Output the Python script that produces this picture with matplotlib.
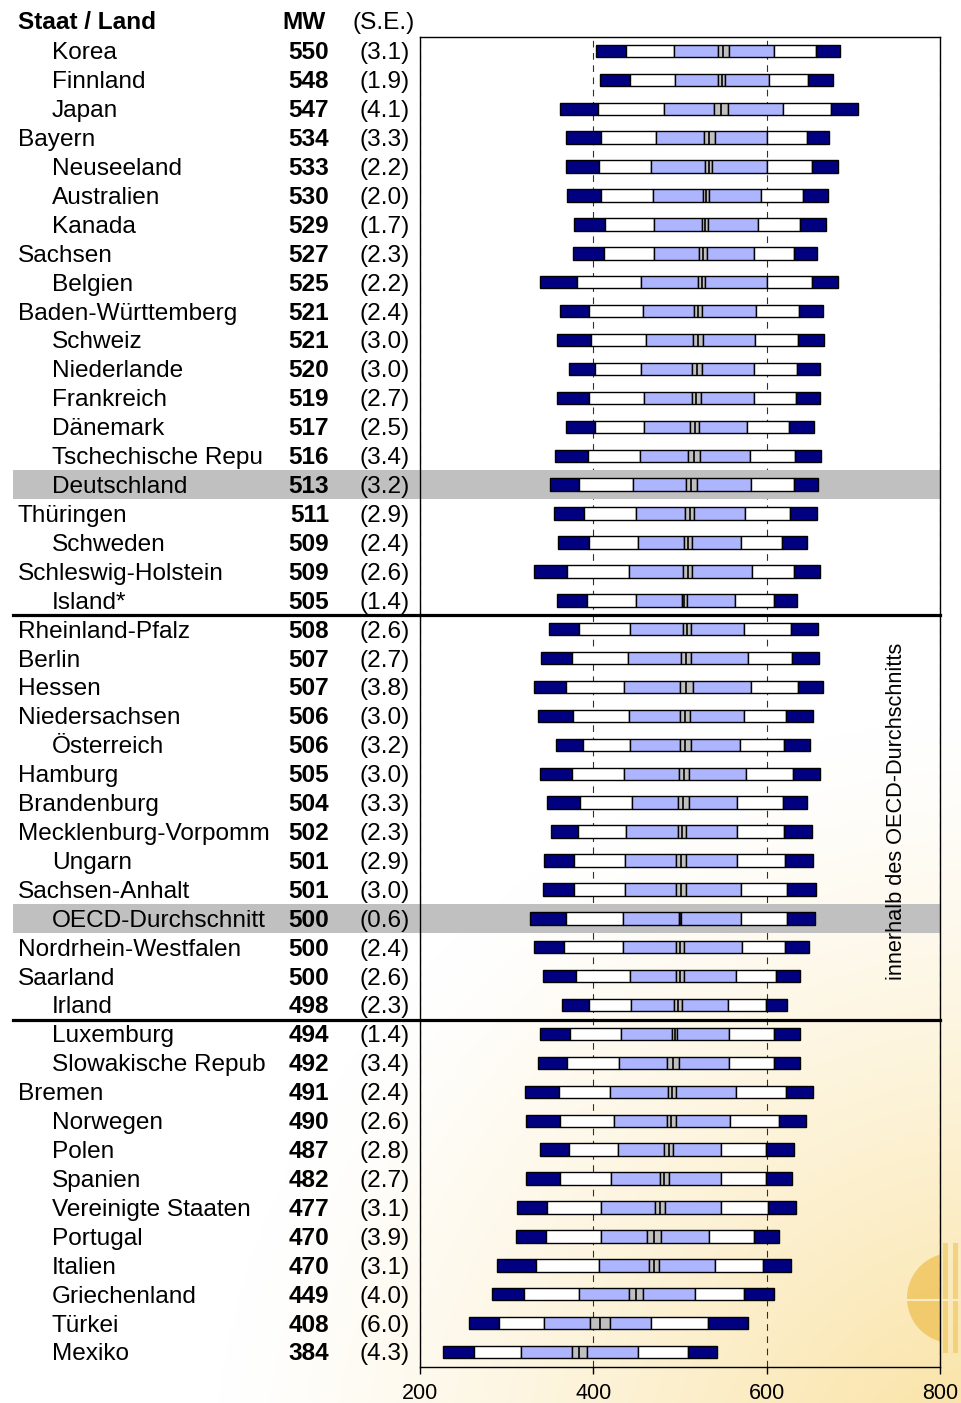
import numpy as np
import matplotlib
matplotlib.use("Agg")
import matplotlib.pyplot as plt
from matplotlib.patches import Rectangle, Circle
from matplotlib.lines import Line2D
from matplotlib.transforms import blended_transform_factory

plt.rcParams['font.family'] = ['Liberation Sans', 'DejaVu Sans']

# ---------------- data ----------------
names = ["Korea", "Finnland", "Japan", "Bayern", "Neuseeland", "Australien", "Kanada",
         "Sachsen", "Belgien", "Baden-Württemberg", "Schweiz", "Niederlande", "Frankreich",
         "Dänemark", "Tschechische Repu", "Deutschland", "Thüringen", "Schweden",
         "Schleswig-Holstein", "Island*", "Rheinland-Pfalz", "Berlin", "Hessen",
         "Niedersachsen", "Österreich", "Hamburg", "Brandenburg", "Mecklenburg-Vorpomm",
         "Ungarn", "Sachsen-Anhalt", "OECD-Durchschnitt", "Nordrhein-Westfalen", "Saarland",
         "Irland", "Luxemburg", "Slowakische Repub", "Bremen", "Norwegen", "Polen", "Spanien",
         "Vereinigte Staaten", "Portugal", "Italien", "Griechenland", "Türkei", "Mexiko"]
# 1 = Staat (Land, indented), 0 = Bundesland
is_country = [1, 1, 1, 0, 1, 1, 1, 0, 1, 0, 1, 1, 1, 1, 1, 1, 0, 1, 0, 1, 0, 0, 0, 0, 1, 0, 0, 0,
              1, 0, 1, 0, 0, 1, 1, 1, 0, 1, 1, 1, 1, 1, 1, 1, 1, 1]
mw = [550, 548, 547, 534, 533, 530, 529, 527, 525, 521, 521, 520, 519, 517, 516, 513, 511, 509,
      509, 505, 508, 507, 507, 506, 506, 505, 504, 502, 501, 501, 500, 500, 500, 498, 494, 492,
      491, 490, 487, 482, 477, 470, 470, 449, 408, 384]
se = [3.1, 1.9, 4.1, 3.3, 2.2, 2.0, 1.7, 2.3, 2.2, 2.4, 3.0, 3.0, 2.7, 2.5, 3.4, 3.2, 2.9, 2.4,
      2.6, 1.4, 2.6, 2.7, 3.8, 3.0, 3.2, 3.0, 3.3, 2.3, 2.9, 3.0, 0.6, 2.4, 2.6, 2.3, 1.4, 3.4,
      2.4, 2.6, 2.8, 2.7, 3.1, 3.9, 3.1, 4.0, 6.0, 4.3]
p5 = [403, 408, 362, 369, 369, 370, 378, 377, 339, 362, 358, 372, 358, 369, 356, 350, 355, 359,
      331, 358, 349, 340, 332, 336, 357, 339, 347, 351, 343, 342, 327, 331, 342, 364, 339, 336,
      321, 322, 338, 322, 312, 311, 289, 283, 257, 226]
p10 = [438, 442, 405, 409, 406, 409, 414, 412, 381, 395, 397, 402, 395, 402, 394, 384, 389, 395,
       370, 393, 383, 375, 369, 376, 388, 375, 385, 382, 378, 378, 368, 366, 380, 395, 373, 370,
       360, 361, 372, 361, 347, 345, 334, 320, 291, 262]
p25 = [493, 494, 481, 472, 467, 469, 470, 470, 455, 457, 461, 455, 458, 458, 454, 446, 449, 451,
       441, 449, 442, 440, 435, 441, 442, 435, 445, 438, 436, 437, 434, 434, 442, 444, 432, 430,
       419, 424, 428, 420, 409, 409, 406, 383, 343, 317]
p75 = [609, 603, 619, 600, 600, 593, 590, 585, 600, 588, 586, 585, 585, 577, 581, 582, 575, 570,
       583, 564, 574, 578, 582, 574, 569, 576, 566, 566, 566, 570, 570, 572, 565, 555, 557, 557,
       565, 558, 547, 547, 547, 533, 540, 517, 467, 451]
p90 = [657, 648, 674, 646, 652, 642, 639, 631, 652, 637, 636, 635, 634, 626, 633, 631, 627, 618,
       632, 608, 628, 629, 636, 622, 620, 630, 619, 620, 621, 623, 624, 621, 611, 599, 609, 608,
       622, 614, 599, 599, 602, 585, 596, 574, 532, 509]
p95 = [685, 676, 705, 672, 682, 671, 668, 658, 682, 665, 666, 662, 662, 655, 663, 659, 658, 647,
       661, 635, 659, 660, 665, 654, 650, 662, 646, 652, 653, 657, 656, 649, 638, 624, 639, 638,
       653, 645, 632, 629, 634, 614, 628, 608, 578, 543]
xticks = [200, 400, 600, 800]
highlight_rows = ["Deutschland", "OECD-Durchschnitt"]
separators_after = ["Island*", "Irland"]
side_label = "innerhalb des OECD-Durchschnitts"

# ---------------- figure ----------------
W, H = 962, 1403
fig = plt.figure(figsize=(W / 100, H / 100), dpi=100)
fig.patch.set_facecolor("white")

# background gradient + faint logo
bg = fig.add_axes([0, 0, 1, 1], zorder=-5)
bg.set_xlim(0, W)
bg.set_ylim(H, 0)
bg.axis("off")
gx, gy = np.meshgrid(np.linspace(0, W, 241), np.linspace(0, H, 351))
dist = np.hypot(gx - 1010, gy - 1520)
t = np.clip(1 - dist / 800, 0, 1) ** 1.25
base = np.array([249, 222, 150]) / 255.0
img = np.ones(gx.shape + (3,)) * (1 - t[..., None]) + base * t[..., None]
bg.imshow(img, extent=(0, W, H, 0), aspect="auto", interpolation="bilinear", zorder=0)
clip = Rectangle((0, 0), 940, H, transform=bg.transData)
disc = Circle((952, 1298), 45, facecolor="#EDBE4C", edgecolor="none", alpha=0.7, zorder=1)
bg.add_patch(disc)
disc.set_clip_path(clip)
for x0 in (943, 953):
    bg.add_patch(Rectangle((x0, 1243), 5, 110, facecolor="#EFC964", edgecolor="none",
                           alpha=0.7, zorder=1))
bg.plot([905, 962], [1300, 1300], color="#FBEBC4", lw=1.5, zorder=2)

# main plot axes
ax = fig.add_axes([420 / W, 1 - 1366.5 / H, 520 / W, 1330 / H])
ax.patch.set_facecolor("none")
n = len(names)
rows = np.arange(n)
ax.set_xlim(200, 800)
ax.set_ylim(n - 0.5, -0.5)

navy = "#000080"
lblue = "#ADB5FF"
gray = "#C0C0C0"
bh = 0.43
p5a, p10a, p25a = np.array(p5), np.array(p10), np.array(p25)
p75a, p90a, p95a = np.array(p75), np.array(p90), np.array(p95)
mwa, sea = np.array(mw, float), np.array(se)
lo, hi = mwa - 1.96 * sea, mwa + 1.96 * sea
segments = [(p5a, p10a, navy), (p10a, p25a, "white"), (p25a, lo, lblue), (lo, hi, gray),
            (hi, p75a, lblue), (p75a, p90a, "white"), (p90a, p95a, navy)]
for a, b, c in segments:
    ax.barh(rows, b - a, left=a, height=bh, color=c, edgecolor="black", linewidth=1.0, zorder=3)
ax.vlines(mwa, rows - bh / 2, rows + bh / 2, color="black", lw=1.2, zorder=4)

# grid
ax.set_xticks(xticks)
ax.set_xticklabels([str(v) for v in xticks], fontsize=15.5)
ax.set_yticks([])
ax.tick_params(axis="x", direction="out", length=5, width=1, pad=7)
ax.xaxis.grid(True, linestyle=(0, (6, 5)), color="#303030", linewidth=0.8)
ax.set_axisbelow(True)
for s in ax.spines.values():
    s.set_linewidth(1.0)
    s.set_zorder(5)

trans = blended_transform_factory(fig.transFigure, ax.transData)

# highlight bands
for nm in highlight_rows:
    i = names.index(nm)
    ax.add_patch(Rectangle((13 / W, i - 0.5), (940 - 13) / W, 1.0, transform=trans,
                           facecolor="#C0C0C0", edgecolor="none", zorder=0.8, clip_on=False))
# separators
for nm in separators_after:
    i = names.index(nm) + 0.5
    ax.add_line(Line2D([13 / W, 940 / W], [i, i], transform=trans, color="black", lw=2.3,
                       zorder=6, clip_on=False))

# table text
fs = 17.6
base_off = 0.29
ax.text(18 / W, -1 + base_off - 0.05, "Staat / Land", transform=trans, fontsize=fs,
        fontweight="bold", va="baseline", ha="left", clip_on=False)
ax.text(326 / W, -1 + base_off - 0.05, "MW", transform=trans, fontsize=fs, fontweight="bold",
        va="baseline", ha="right", clip_on=False)
ax.text(415 / W, -1 + base_off - 0.05, "(S.E.)", transform=trans, fontsize=fs,
        va="baseline", ha="right", clip_on=False)
for i in rows:
    x0 = 52 if is_country[i] else 18
    ax.text(x0 / W, i + base_off, names[i], transform=trans, fontsize=fs, va="baseline",
            ha="left", clip_on=False, zorder=7)
    ax.text(329 / W, i + base_off, str(mw[i]), transform=trans, fontsize=fs, fontweight="bold",
            va="baseline", ha="right", clip_on=False, zorder=7)
    ax.text(410 / W, i + base_off, f"({se[i]:.1f})", transform=trans, fontsize=fs,
            va="baseline", ha="right", clip_on=False, zorder=7)

# vertical side label
ax.text(897 / W, 26.3, side_label, transform=trans, rotation=90, fontsize=15.7,
        ha="center", va="center", clip_on=False, zorder=7)

fig.savefig("out.png", dpi=100)
